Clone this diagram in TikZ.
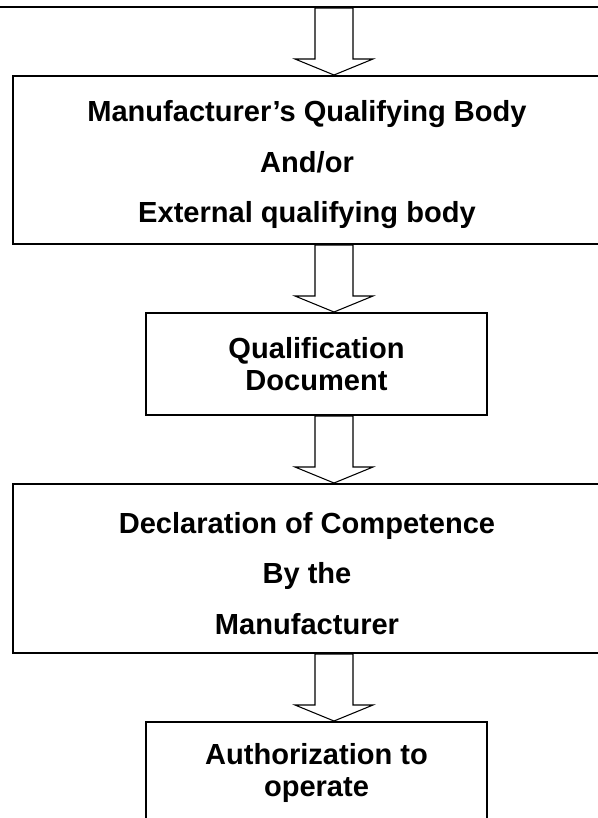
\documentclass[tikz,border=0pt]{standalone}
\usepackage{fontspec}
\setmainfont{Liberation Sans}
\usetikzlibrary{positioning, calc}

\begin{document}
\begin{tikzpicture}[
    x=0.75pt, y=-0.75pt, % one unit is one pixel of the page, y runs down
    font=\bfseries, % Bold sans-serif for all labels
    % --- STYLES ---
    wide_box/.style={draw, line width=1.5pt, inner sep=0pt, align=center,
        minimum width=441pt, minimum height=126pt,
        font=\bfseries\fontsize{21.8}{37.9}\selectfont},
    narrow_box/.style={draw, line width=1.5pt, inner sep=0pt, align=center,
        minimum width=255.75pt, minimum height=76.5pt,
        font=\bfseries\fontsize{21.8}{24.4}\selectfont},
    block_arrow/.style={draw, line width=0.8pt, line join=miter,
        to path={let \p1=(\tikztostart), \p2=(\tikztotarget) in
            (\x1-14.25pt,\y1) -- (\x1+14.25pt,\y1) -- (\x1+14.25pt,\y2+12pt)
            -- (\x1+29.25pt,\y2+12pt) -- (\x2,\y2) -- (\x1-29.25pt,\y2+12pt)
            -- (\x1-14.25pt,\y2+12pt) -- cycle}}
]
% Page frame (598 x 818 px)
\useasboundingbox (0,0) rectangle (598,818);

% --- BOXES ---
% Box above the page: only its lower edge shows
\node[draw, line width=1.5pt, minimum width=495pt, minimum height=80.25pt] (B0) at (300,-46.5) {};
% Box 1
\node[wide_box] (B1) at (307,160) {%
    \rule{0pt}{23pt}Manufacturer’s Qualifying Body\\ And/or\\ External qualifying body};
% Box 2
\node[narrow_box] (B2) at (316.5,364) {Qualification\\ Document};
% Box 3
\node[wide_box, minimum height=126.75pt] (B3) at (307,568.5) {%
    \rule{0pt}{23pt}Declaration of Competence\\ By the\\ Manufacturer};
% Box 4 (runs off the bottom of the page)
\node[narrow_box] (B4) at (316.5,773) {Authorization to\\ operate};

% --- ARROWS ---
% All arrows sit on one vertical line
\coordinate (axis) at (334,0);
\draw[block_arrow] (B0.south -| axis) to (B1.north -| axis);
\draw[block_arrow] (B1.south -| axis) to (B2.north -| axis);
\draw[block_arrow] (B2.south -| axis) to (B3.north -| axis);
\draw[block_arrow] (B3.south -| axis) to (B4.north -| axis);

\end{tikzpicture}
\end{document}
